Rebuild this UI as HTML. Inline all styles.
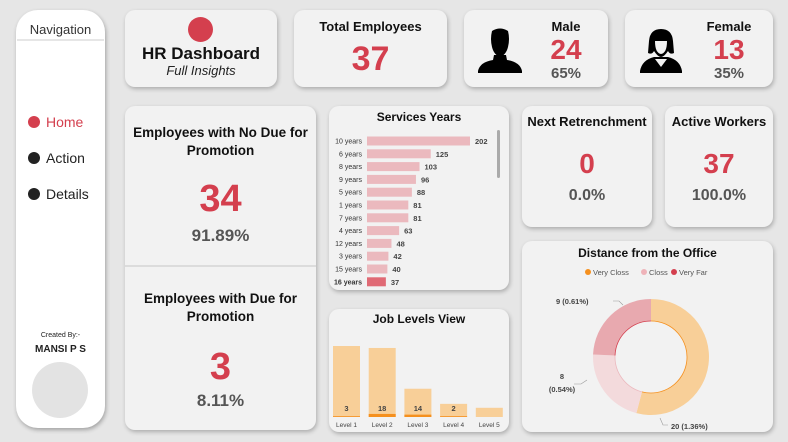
<!DOCTYPE html>
<html><head><meta charset="utf-8">
<style>
*{box-sizing:border-box;margin:0;padding:0}
body{width:788px;height:442px;background:#e6e6e6;font-family:"Liberation Sans",sans-serif;position:relative;overflow:hidden}
.card{position:absolute;background:#f2f2f2;border-radius:10px;box-shadow:1px 2px 4px rgba(0,0,0,.25)}
.t{position:absolute;left:0;right:0;text-align:center;font-weight:bold;color:#111}
.big{color:#d43f4e;font-weight:bold}
.pct{color:#555;font-weight:bold}
.nav{position:absolute;left:16px;top:10px;width:89px;height:418px;background:#fff;border-radius:22px;box-shadow:1px 2px 4px rgba(0,0,0,.3)}
.ni{position:absolute;left:12px;font-size:14px;color:#222;display:flex;align-items:center}
.ni span{width:12px;height:12px;border-radius:50%;background:#222;margin-right:6px;display:inline-block}
</style></head><body>
<div class="nav">
  <div style="position:absolute;top:12px;width:100%;text-align:center;font-size:13px;color:#333">Navigation</div>
  <div style="position:absolute;top:29px;left:1px;right:1px;height:2px;background:#e6e6e6"></div>
  <div class="ni" style="top:104px;color:#d43f4e"><span style="background:#d43f4e"></span>Home</div>
  <div class="ni" style="top:140px"><span></span>Action</div>
  <div class="ni" style="top:176px"><span></span>Details</div>
  <div style="position:absolute;top:322px;width:100%;text-align:center;font-size:7px;color:#222">Created By:-</div>
  <div style="position:absolute;top:334px;width:100%;text-align:center;font-size:10px;font-weight:bold;color:#222">MANSI P S</div>
  <div style="position:absolute;top:352px;left:16px;width:56px;height:56px;border-radius:50%;background:#e3e3e3"></div>
</div>

<div class="card" style="left:125px;top:10px;width:152px;height:77px">
  <div style="position:absolute;left:63px;top:7px;width:25px;height:25px;border-radius:50%;background:#d43f4e"></div>
  <div class="t" style="top:34px;font-size:17px">HR Dashboard</div>
  <div style="position:absolute;top:53px;width:100%;text-align:center;font-size:13px;font-style:italic;color:#222">Full Insights</div>
</div>

<div class="card" style="left:294px;top:10px;width:153px;height:77px">
  <div class="t" style="top:9px;font-size:13px">Total Employees</div>
  <div class="t big" style="top:30px;font-size:34px;color:#d43f4e">37</div>
</div>

<div class="card" style="left:464px;top:10px;width:144px;height:77px">
  <svg style="position:absolute;left:12px;top:17px" width="48" height="46" viewBox="0 0 48 46"><path d="M16 4 Q24 -1 32 4 Q34 12 32 20 Q30 28 24 30 Q18 28 16 20 Q14 12 16 4Z M18 28 L30 28 L31 33 Q44 35 46 44 L46 46 L2 46 L2 44 Q4 35 17 33Z" fill="#000"/></svg>
  <div class="t" style="left:60px;top:9px;font-size:13px">Male</div>
  <div class="t big" style="left:60px;top:24px;font-size:28px;color:#d43f4e">24</div>
  <div class="t pct" style="left:60px;top:55px;font-size:15px">65%</div>
</div>

<div class="card" style="left:625px;top:10px;width:148px;height:77px">
  <svg style="position:absolute;left:13px;top:17px" width="46" height="46" viewBox="0 0 46 46"><path d="M23 2 Q34 2 35 14 L36 26 Q32 28 30 24 Q26 30 23 30 Q20 30 16 24 Q14 28 10 26 L11 14 Q12 2 23 2Z M17 14 Q17 26 23 27 Q29 26 29 14Z M16 30 L30 30 Q42 33 44 44 L44 46 L2 46 L2 44 Q4 33 16 30Z M17 32 L23 40 L29 32Z" fill="#000" fill-rule="evenodd"/></svg>
  <div class="t" style="left:60px;top:9px;font-size:13px">Female</div>
  <div class="t big" style="left:60px;top:24px;font-size:28px;color:#d43f4e">13</div>
  <div class="t pct" style="left:60px;top:55px;font-size:15px">35%</div>
</div>

<div class="card" style="left:125px;top:106px;width:191px;height:324px">
  <div class="t" style="top:18px;font-size:13.5px;line-height:18px">Employees with No Due for<br>Promotion</div>
  <div class="t big" style="top:72px;font-size:38px">34</div>
  <div class="t pct" style="top:120px;font-size:17px">91.89%</div>
  <div style="position:absolute;top:159px;left:0;right:0;height:2px;background:#dcdcdc"></div>
  <div class="t" style="top:184px;font-size:13.5px;line-height:18px">Employees with Due for<br>Promotion</div>
  <div class="t big" style="top:240px;font-size:38px">3</div>
  <div class="t pct" style="top:285px;font-size:17px">8.11%</div>
</div>

<div class="card" style="left:522px;top:106px;width:130px;height:121px">
  <div class="t" style="top:8px;font-size:13px">Next Retrenchment</div>
  <div class="t big" style="top:42px;font-size:28px">0</div>
  <div class="t pct" style="top:81px;font-size:16px">0.0%</div>
</div>
<div class="card" style="left:665px;top:106px;width:108px;height:121px">
  <div class="t" style="top:8px;font-size:13px">Active Workers</div>
  <div class="t big" style="top:42px;font-size:28px">37</div>
  <div class="t pct" style="top:81px;font-size:16px">100.0%</div>
</div>

<div class="card" style="left:329px;top:106px;width:180px;height:184px">
  <div class="t" style="top:4px;font-size:12px">Services Years</div>
  <svg id="sv" style="position:absolute;left:0;top:0" width="180" height="184"></svg>
</div>

<div class="card" style="left:329px;top:309px;width:180px;height:123px">
  <div class="t" style="top:3px;font-size:12px">Job Levels View</div>
  <svg id="jl" style="position:absolute;left:0;top:0" width="180" height="123"></svg>
</div>

<div class="card" style="left:522px;top:241px;width:251px;height:191px">
  <div class="t" style="top:5px;font-size:12px">Distance from the Office</div>
  <svg id="dn" style="position:absolute;left:0;top:0" width="251" height="191"></svg>
</div>

<script>
const svcCats=["10 years","6 years","8 years","9 years","5 years","1 years","7 years","4 years","12 years","3 years","15 years","16 years"];
const svcVals=[202,125,103,96,88,81,81,63,48,42,40,37];
const jobCats=["Level 1","Level 2","Level 3","Level 4","Level 5"];
const jobTotals=[540,525,215,100,70];
const jobVals=[3,18,14,2,0];
const distCats=["Very Closs","Closs","Very Far"];
const distVals=[20,8,9];
const distPct=["1.36%","0.54%","0.61%"];
const NS="http://www.w3.org/2000/svg";
function mk(p,tag,at,txt){const e=document.createElementNS(NS,tag);for(const k in at)e.setAttribute(k,at[k]);if(txt!==undefined)e.textContent=txt;p.appendChild(e);return e;}

// services
const sv=document.getElementById('sv');
const sx=v=>v*103/202, sy=i=>30.5+i*12.8;
svcCats.forEach((c,i)=>{
  const last=i===svcCats.length-1;
  let t=mk(sv,'text',{x:33,y:sy(i)+7,'text-anchor':'end','font-size':7,fill:'#333','font-weight':last?'bold':'normal'},c);
  
  
  let r=mk(sv,'rect',{x:38,y:sy(i),width:sx(svcVals[i]),height:9,fill:last?'#e06a75':'#ebb9be'});
  
  
  mk(sv,'text',{x:38+sx(svcVals[i])+5,y:sy(i)+7.5,'font-size':7.5,'font-weight':'bold',fill:'#444'},svcVals[i]);
});
const sb=mk(sv,'rect',{x:168,y:24,width:3,height:48,rx:1.5,fill:'#aaa'});



// job levels
const jl=document.getElementById('jl');
const base=108, jy=v=>v*71/540, jx=i=>4+i*35.7;
jobCats.forEach((c,i)=>{
  let r=mk(jl,'rect',{x:jx(i),y:base-jy(jobTotals[i]),width:27,height:jy(jobTotals[i]),fill:'#f8cf98'});
  
  
  const h=jobVals[i]*0.17;
  if(h>0){let o=mk(jl,'rect',{x:jx(i),y:base-Math.max(h,0.8),width:27,height:Math.max(h,0.8),fill:'#f5901e'});
  
  }
  if(jobVals[i]>0)mk(jl,'text',{x:jx(i)+13.5,y:base-6,'text-anchor':'middle','font-size':7.5,'font-weight':'bold',fill:'#444'},jobVals[i]);
  mk(jl,'text',{x:jx(i)+13.5,y:base+10,'text-anchor':'middle','font-size':6.5,fill:'#444'},c);
});

// donut
const dn=document.getElementById('dn');
const cols=['#f8cf98','#f3dadc','#e8a9af'], edge=['#f5901e','#ebb9be','#d43f4e'];
const legCols=['#f5901e','#efb3b9','#d43f4e'];
let lx=[62,118,148];
distCats.forEach((c,i)=>{
  mk(dn,'circle',{cx:lx[i]+4,cy:31,r:3,fill:legCols[i]});
  let t=mk(dn,'text',{x:lx[i]+9,y:34,'font-size':7.5,fill:'#555'},c);
  
  
});
const cx=129,cy=116,R=58,r0=36;
const tot=distVals.reduce((a,b)=>a+b,0);
let a0=0;
const pt=(a,r)=>[cx+r*Math.sin(a),cy-r*Math.cos(a)];
distVals.forEach((v,i)=>{
  const a1=a0+v/tot*2*Math.PI, lg=(a1-a0)>Math.PI?1:0;
  const p1=pt(a0,R),p2=pt(a1,R),p3=pt(a1,r0),p4=pt(a0,r0);
  let p=mk(dn,'path',{d:`M${p1} A${R},${R} 0 ${lg} 1 ${p2} L${p3} A${r0},${r0} 0 ${lg} 0 ${p4}Z`,fill:cols[i]});
  
  
  mk(dn,'path',{d:`M${p4} A${r0},${r0} 0 ${lg} 1 ${p3}`,fill:'none',stroke:edge[i],'stroke-width':0.8});
  a0=a1;
});
const lab=(x,y,lines,anchor)=>lines.forEach((l,k)=>mk(dn,'text',{x:x,y:y+k*11,'text-anchor':anchor,'font-size':7.5,'font-weight':'bold',fill:'#444'},l));
lab(34,63,[distVals[2]+" ("+distPct[2]+")"],'start');
mk(dn,'path',{d:'M91 60 L97 60 L101 64',fill:'none',stroke:'#999','stroke-width':0.6});
lab(40,138,[String(distVals[1])],'middle'); lab(40,151,["("+distPct[1]+")"],'middle');
mk(dn,'path',{d:'M52 143 L59 143 L65 139',fill:'none',stroke:'#999','stroke-width':0.6});
lab(149,188,[distVals[0]+" ("+distPct[0]+")"],'start');
mk(dn,'path',{d:'M146 184 L141 184 L138 177',fill:'none',stroke:'#999','stroke-width':0.6});
</script>
</body></html>
